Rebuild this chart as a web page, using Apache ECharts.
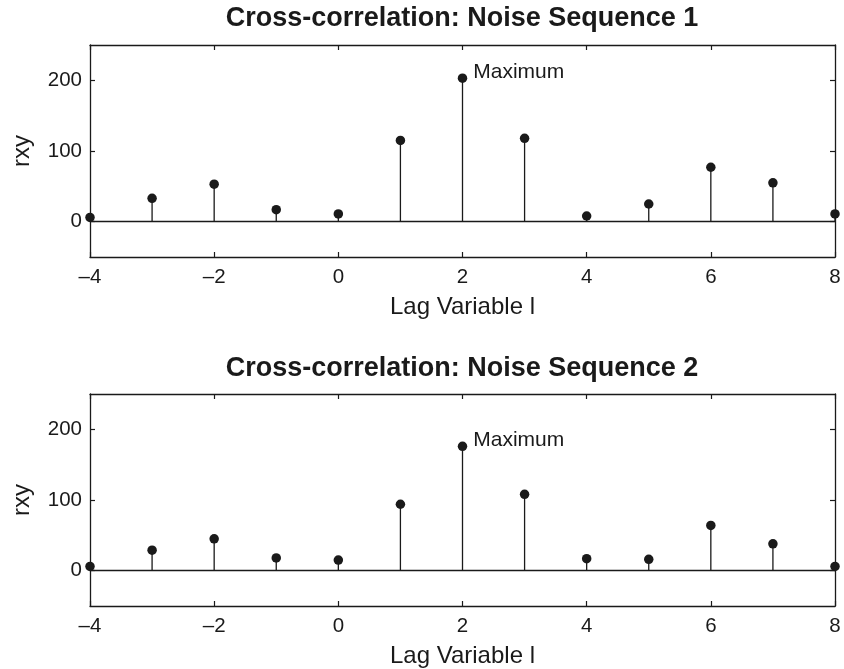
<!DOCTYPE html>
<html>
<head>
<meta charset="utf-8">
<script src="https://cdn.jsdelivr.net/npm/echarts@6/dist/echarts.min.js"></script>
<style>html,body{margin:0;padding:0;background:#fff}#c{width:844px;height:669px}</style>
</head>
<body>
<div id="c"></div>
<script>
const lags = [-4, -3, -2, -1, 0, 1, 2, 3, 4, 5, 6, 7, 8];
const rxy1 = [6, 33, 53, 17, 11, 115, 203, 118, 8, 25, 77, 55, 11];
const rxy2 = [6, 29, 45, 18, 15, 94, 176, 108, 17, 16, 64, 38, 6];
const titles = ['Cross-correlation: Noise Sequence 1', 'Cross-correlation: Noise Sequence 2'];
const xLabel = 'Lag Variable l';
const yLabel = 'rxy';
const yTicks = [0, 100, 200];
const maxLabel = 'Maximum';

const FONT = '"Liberation Sans", Arial, Helvetica, sans-serif';
const INK = '#1a1a1a';
const chart = echarts.init(document.getElementById('c'), null, {renderer: 'canvas'});

const grids = [
  {left: 90, right: 9, top: 45, height: 212},
  {left: 90, right: 9, top: 394, height: 212}
];

function fmt(v) { return String(v).replace('-', '\u2013'); }

const xAxes = [], yAxes = [], series = [];
[rxy1, rxy2].forEach((vals, g) => {
  const base = {
    gridIndex: g, type: 'value', min: -4, max: 8, interval: 2,
    splitLine: {show: false},
    axisLine: {show: true, onZero: false, lineStyle: {color: INK, width: 1.3}},
    axisTick: {show: true, inside: true, length: 5, lineStyle: {color: INK, width: 1.2}}
  };
  xAxes.push(Object.assign({}, base, {
    position: 'bottom',
    name: xLabel, nameLocation: 'middle', nameGap: 38,
    nameTextStyle: {fontFamily: FONT, fontSize: 24, color: INK},
    axisLabel: {show: true, margin: 10, fontFamily: FONT, fontSize: 20.5, color: INK, formatter: fmt}
  }));
  xAxes.push(Object.assign({}, base, {position: 'top', axisLabel: {show: false}}));
  const ybase = {
    gridIndex: g, type: 'value', min: -50, max: 250, interval: 50,
    splitLine: {show: false},
    axisLine: {show: true, onZero: false, lineStyle: {color: INK, width: 1.3}},
    axisTick: {show: true, inside: true, length: 5, customValues: yTicks, lineStyle: {color: INK, width: 1.2}}
  };
  yAxes.push(Object.assign({}, ybase, {
    position: 'left',
    name: yLabel, nameLocation: 'middle', nameGap: 56, nameRotate: 90,
    nameTextStyle: {fontFamily: FONT, fontSize: 24, color: INK},
    axisLabel: {show: true, margin: 8, fontFamily: FONT, fontSize: 20.5, color: INK, customValues: yTicks}
  }));
  yAxes.push(Object.assign({}, ybase, {position: 'right', axisLabel: {show: false}}));

  const data = lags.map((x, i) => [x, vals[i]]);
  const mx = Math.max.apply(null, vals);
  series.push({
    type: 'bar', xAxisIndex: g * 2, yAxisIndex: g * 2,
    data: data, barWidth: 1.3, itemStyle: {color: INK, opacity: 1}, silent: true,
    markLine: {
      silent: true, symbol: ['none', 'none'], label: {show: false},
      lineStyle: {color: INK, width: 1.4, type: 'solid', opacity: 1},
      data: [{yAxis: 0}], animation: false
    },
    animation: false
  });
  series.push({
    type: 'scatter', xAxisIndex: g * 2, yAxisIndex: g * 2,
    data: data, symbol: 'circle', symbolSize: 9.5, clip: false,
    itemStyle: {color: INK, opacity: 1},
    label: {
      show: true, position: 'right', distance: 6, offset: [0, -6],
      fontFamily: FONT, fontSize: 21, color: INK,
      formatter: p => (p.value[1] === mx ? maxLabel : '')
    },
    animation: false
  });
});

chart.setOption({
  animation: false,
  backgroundColor: '#fff',
  title: [
    {text: titles[0], left: 462, top: 5, padding: 0, textAlign: 'center',
     textStyle: {fontFamily: FONT, fontSize: 27, fontWeight: 'bold', color: INK}},
    {text: titles[1], left: 462, top: 355, padding: 0, textAlign: 'center',
     textStyle: {fontFamily: FONT, fontSize: 27, fontWeight: 'bold', color: INK}}
  ],
  grid: grids,
  xAxis: xAxes,
  yAxis: yAxes,
  series: series
});
</script>
</body>
</html>
